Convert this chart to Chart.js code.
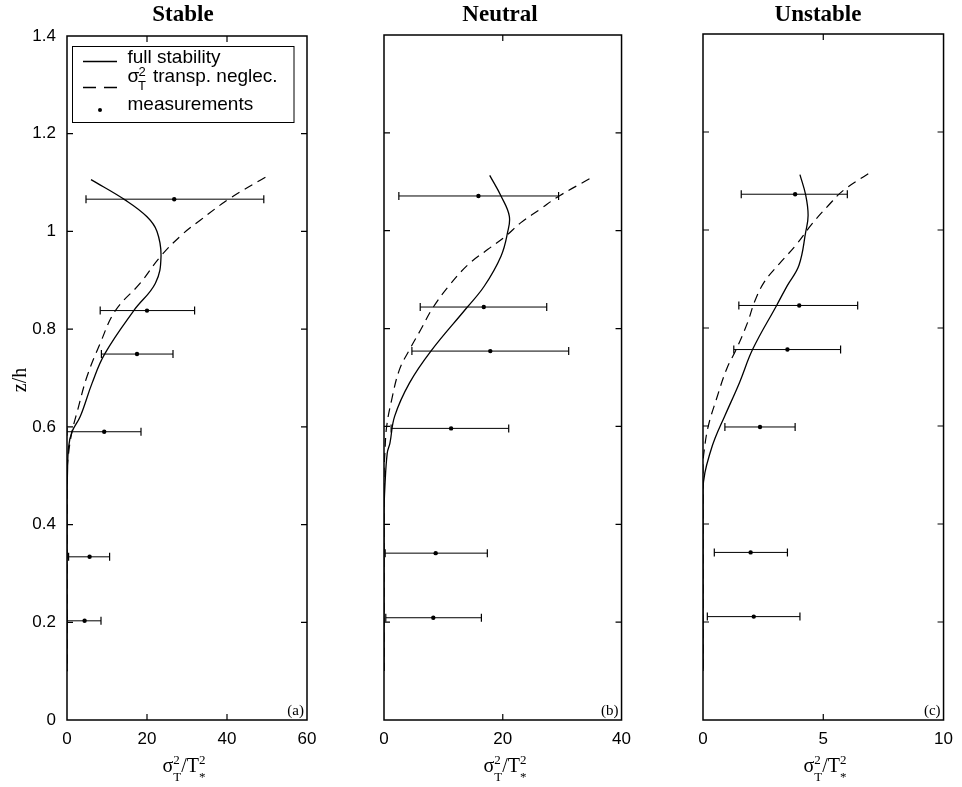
<!DOCTYPE html>
<html>
<head>
<meta charset="utf-8">
<script src="https://cdn.jsdelivr.net/npm/chart.js@4.4.1/dist/chart.umd.min.js"></script>
<style>
  html, body { margin: 0; padding: 0; background: #fff; }
  #wrap { position: relative; width: 962px; height: 787px; overflow: hidden; background: #fff; }
  canvas { position: absolute; top: 0; }
</style>
</head>
<body>
<div id="wrap">
  <canvas id="stable" width="330" height="787" style="left:0px"></canvas>
  <canvas id="neutral" width="300" height="787" style="left:340px"></canvas>
  <canvas id="unstable" width="302" height="787" style="left:660px"></canvas>
</div>
<script>
const SANS = '"Liberation Sans", Arial, Helvetica, sans-serif';
const SERIF = '"Liberation Serif", "Times New Roman", serif';

// measurement heights z/h, mean sigma_T^2/T*^2 and the error bar ends
const stableZ = [1.066, 0.838, 0.749, 0.590, 0.334, 0.203];
const stableMeas = [26.8, 20.0, 17.5, 9.3, 5.65, 4.4];
const stableLo = [4.75, 8.3, 8.6, 0, 0.4, 0];
const stableHi = [49.2, 31.9, 26.5, 18.5, 10.65, 8.5];

const neutralZ = [1.071, 0.844, 0.754, 0.596, 0.341, 0.209];
const neutralMeas = [15.9, 16.8, 17.9, 11.3, 8.7, 8.3];
const neutralLo = [2.5, 6.1, 4.7, 1.2, 0.2, 0.3];
const neutralHi = [29.4, 27.4, 31.1, 21.0, 17.4, 16.4];

const unstableZ = [1.073, 0.846, 0.756, 0.598, 0.342, 0.211];
const unstableMeas = [3.83, 4.0, 3.51, 2.37, 1.98, 2.11];
const unstableLo = [1.59, 1.49, 1.28, 0.91, 0.47, 0.18];
const unstableHi = [6.0, 6.43, 5.72, 3.83, 3.51, 4.03];

// model profiles, [sigma_T^2/T*^2, z/h]
const stableFull = [[6.0,1.106],[14.6,1.064],[20,1.03],[22.5,1.0],[23.5,0.948],[22.1,0.894],[16.7,0.838],
  [9.4,0.749],[6.25,0.689],[3.3,0.621],[1.25,0.59],[0.4,0.559],[0.1,0.5],[0,0.45],[0,0.1]];
const stableNoTransp = [[49.6,1.111],[40.8,1.068],[33.3,1.023],[28.7,0.993],[23.3,0.948],[18.3,0.894],
  [12.1,0.838],[8.3,0.771],[5,0.703],[2.65,0.634],[1.25,0.59],[0.4,0.546],[0,0.5],[0,0.1]];

const neutralFull = [[17.8,1.113],[19.7,1.071],[21.1,1.03],[20.8,0.996],[19.7,0.948],[16.9,0.887],
  [13.9,0.842],[7.9,0.754],[4.3,0.689],[1.8,0.621],[1.0,0.566],[0.55,0.546],[0.15,0.477],[0,0.42],[0,0.1]];
const neutralNoTransp = [[34.6,1.106],[29.5,1.071],[26.3,1.044],[23.0,1.016],[20.5,0.989],[17.5,0.962],
  [14.2,0.931],[10.9,0.887],[8.2,0.842],[6.2,0.798],[4.3,0.757],[2.6,0.716],[1.3,0.655],[0.45,0.6],
  [0.15,0.546],[0,0.5],[0,0.1]];

const unstableFull = [[4.03,1.113],[4.27,1.071],[4.37,1.03],[4.27,0.996],[3.99,0.928],[3.51,0.887],
  [3.06,0.846],[2.07,0.757],[1.52,0.689],[0.9,0.62],[0.5,0.575],[0.3,0.546],[0.08,0.505],[0,0.47],[0,0.1]];
const unstableNoTransp = [[6.87,1.115],[5.84,1.081],[5.23,1.051],[4.54,1.013],[3.86,0.969],[3.17,0.931],
  [2.55,0.894],[2.14,0.853],[1.86,0.812],[1.39,0.757],[0.98,0.716],[0.56,0.655],[0.22,0.6],[0.05,0.55],
  [0,0.52],[0,0.1]];

const panelTitles = ['Stable', 'Neutral', 'Unstable'];
const panelTags = ['(a)', '(b)', '(c)'];
const xMaxes = [60, 40, 10];
const xSteps = [20, 20, 5];

function drawSigmaRatio(ctx, cx, base) {
  const big = '20px ' + SERIF, sm = '13px ' + SERIF;
  ctx.font = big;
  const wSig = ctx.measureText('\u03c3').width, wSlash = ctx.measureText('/T').width;
  ctx.font = sm;
  const w1 = Math.max(ctx.measureText('2').width, ctx.measureText('T').width);
  const w2 = Math.max(ctx.measureText('2').width, ctx.measureText('*').width);
  let xx = cx - (wSig + w1 + wSlash + w2) / 2;
  ctx.textAlign = 'left';
  ctx.textBaseline = 'alphabetic';
  ctx.font = big; ctx.fillText('\u03c3', xx, base); xx += wSig;
  ctx.font = sm; ctx.fillText('2', xx, base - 8.5); ctx.fillText('T', xx, base + 9); xx += w1;
  ctx.font = big; ctx.fillText('/T', xx, base); xx += wSlash;
  ctx.font = sm; ctx.fillText('2', xx, base - 8.5); ctx.fillText('*', xx, base + 9);
}

function drawLegend(ctx) {
  ctx.save();
  ctx.strokeStyle = '#000';
  ctx.lineWidth = 1;
  ctx.fillStyle = '#fff';
  ctx.fillRect(72.5, 46.5, 221.5, 76);
  ctx.strokeRect(72.5, 46.5, 221.5, 76);
  ctx.fillStyle = '#000';
  ctx.lineWidth = 1.3;
  ctx.beginPath(); ctx.moveTo(83, 61.5); ctx.lineTo(117, 61.5); ctx.stroke();
  ctx.setLineDash([13, 8]);
  ctx.beginPath(); ctx.moveTo(83, 87.5); ctx.lineTo(117, 87.5); ctx.stroke();
  ctx.setLineDash([]);
  ctx.beginPath(); ctx.arc(100, 110, 2, 0, Math.PI * 2); ctx.fill();
  ctx.textAlign = 'left';
  ctx.textBaseline = 'alphabetic';
  ctx.font = '19px ' + SANS;
  ctx.fillText('full stability', 127.5, 63);
  ctx.fillText('\u03c3', 127.5, 82);
  ctx.fillText('transp. neglec.', 153, 82);
  ctx.fillText('measurements', 127.5, 110);
  ctx.font = '13px ' + SANS;
  ctx.fillText('2', 138.5, 76);
  ctx.fillText('T', 138, 90);
  ctx.restore();
}

const framePlugin = {
  id: 'frame',
  afterDraw(chart, args, opts) {
    const { ctx, chartArea: a, scales: { x, y } } = chart;
    ctx.save();
    ctx.strokeStyle = '#000';
    ctx.fillStyle = '#000';
    ctx.lineWidth = 1.5;
    ctx.strokeRect(a.left, a.top, a.right - a.left, a.bottom - a.top);
    ctx.lineWidth = 1.2;
    const t = 6;
    ctx.beginPath();
    x.ticks.forEach(tk => {
      const px = x.getPixelForValue(tk.value);
      if (px <= a.left + 1 || px >= a.right - 1) return;
      ctx.moveTo(px, a.bottom); ctx.lineTo(px, a.bottom - t);
      ctx.moveTo(px, a.top); ctx.lineTo(px, a.top + t);
    });
    y.ticks.forEach(tk => {
      const py = y.getPixelForValue(tk.value);
      if (py <= a.top + 1 || py >= a.bottom - 1) return;
      ctx.moveTo(a.left, py); ctx.lineTo(a.left + t, py);
      ctx.moveTo(a.right, py); ctx.lineTo(a.right - t, py);
    });
    ctx.stroke();

    // panel title
    ctx.font = 'bold 23px ' + SERIF;
    ctx.textAlign = 'center';
    ctx.textBaseline = 'alphabetic';
    ctx.fillText(opts.title, opts.titleX, 21);

    // panel tag
    ctx.font = '15px ' + SERIF;
    ctx.textAlign = 'right';
    ctx.fillText(opts.tag, a.right - 3, 715);

    // x axis title
    drawSigmaRatio(ctx, opts.xTitleX, 772);

    if (opts.yTitle) {
      ctx.save();
      ctx.translate(21, 380);
      ctx.rotate(-Math.PI / 2);
      ctx.font = '20px ' + SERIF;
      ctx.textAlign = 'center';
      ctx.textBaseline = 'middle';
      ctx.fillText('z/h', 0, 0);
      ctx.restore();
    }
    if (opts.legend) drawLegend(ctx);
    ctx.restore();
  }
};

function buildDatasets(zs, meas, lo, hi, full, noTransp) {
  const sets = [];
  sets.push({
    data: full.map(p => ({ x: p[0], y: p[1] })),
    showLine: true, borderColor: '#000', borderWidth: 1.3, tension: 0.4, pointRadius: 0
  });
  sets.push({
    data: noTransp.map(p => ({ x: p[0], y: p[1] })),
    showLine: true, borderColor: '#000', borderWidth: 1.2, borderDash: [9, 6], tension: 0.4, pointRadius: 0
  });
  zs.forEach((z, i) => {
    sets.push({
      data: [{ x: lo[i], y: z }, { x: hi[i], y: z }],
      showLine: true, borderColor: '#000', borderWidth: 1,
      pointStyle: 'line', pointRotation: 90, pointRadius: 4,
      pointBorderColor: '#000', pointBorderWidth: 1.2
    });
  });
  sets.push({
    data: zs.map((z, i) => ({ x: meas[i], y: z })),
    showLine: false, pointRadius: 2.2, pointBackgroundColor: '#000', pointBorderWidth: 0
  });
  return sets;
}

function makePanel(id, idx, datasets, yWidth, padRight, padTop, titleX, xTitleX) {
  const showY = idx === 0;
  return new Chart(document.getElementById(id), {
    type: 'scatter',
    data: { datasets },
    options: {
      responsive: false,
      animation: false,
      events: [],
      layout: { padding: { top: padTop, right: padRight, bottom: 0, left: 0 } },
      scales: {
        x: {
          type: 'linear', min: 0, max: xMaxes[idx],
          grid: { display: false, drawTicks: false },
          border: { display: false },
          ticks: { stepSize: xSteps[idx], padding: 9, color: '#000', maxRotation: 0,
                   font: { family: SANS, size: 17 } },
          afterFit(s) { s.height = 67; }
        },
        y: {
          type: 'linear', min: 0, max: 1.4,
          grid: { display: false, drawTicks: false },
          border: { display: false },
          ticks: { stepSize: 0.2, padding: 11, color: showY ? '#000' : 'rgba(0,0,0,0)',
                   font: { family: SANS, size: 17 },
                   callback: v => String(Number(v.toFixed(2))) },
          afterFit(s) { s.width = yWidth; }
        }
      },
      plugins: {
        legend: { display: false },
        tooltip: { enabled: false },
        frame: {
          title: panelTitles[idx], tag: panelTags[idx], titleX, xTitleX,
          yTitle: showY, legend: showY
        }
      }
    },
    plugins: [framePlugin]
  });
}

makePanel('stable', 0,
  buildDatasets(stableZ, stableMeas, stableLo, stableHi, stableFull, stableNoTransp),
  67, 23, 36, 183, 184);
makePanel('neutral', 1,
  buildDatasets(neutralZ, neutralMeas, neutralLo, neutralHi, neutralFull, neutralNoTransp),
  44, 14, 35, 160, 165);
makePanel('unstable', 2,
  buildDatasets(unstableZ, unstableMeas, unstableLo, unstableHi, unstableFull, unstableNoTransp),
  43, 16, 34, 158, 165);
</script>
</body>
</html>
